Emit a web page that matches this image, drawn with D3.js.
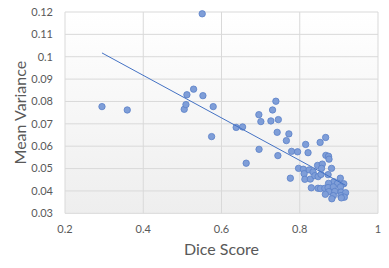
<!DOCTYPE html>
<html lang="en">
<head>
  <script src="https://d3js.org/d3.v7.min.js"></script>
  <style>
    body { margin: 0; background: #fff; }
    text { font-family: Lato, "Open Sans", sans-serif; fill: #595959; }
  </style>
</head>
<body>
<svg width="389" height="268">
  <defs>
    <linearGradient id="plotbg" x1="0" y1="0" x2="0" y2="1">
      <stop offset="0" stop-color="#ffffff"/>
      <stop offset="1" stop-color="#eeeeee"/>
    </linearGradient>
  </defs>
</svg>
<script>
  // dice score vs mean variance
  var diceScore = [0.2945, 0.3591, 0.5047, 0.5091, 0.5116, 0.5287, 0.5525, 0.5507, 0.5788, 0.5747,
    0.6375, 0.6539, 0.6631, 0.6955, 0.7006, 0.6960, 0.7262, 0.7305, 0.7390, 0.7453,
    0.7423, 0.7441, 0.7722, 0.7658, 0.7791, 0.7944, 0.7760, 0.8151, 0.8212, 0.8521,
    0.8662, 0.8667, 0.8736, 0.8748, 0.8455, 0.8577, 0.8812, 0.7969, 0.8092, 0.8240,
    0.8340, 0.8112, 0.8130, 0.8271, 0.8386, 0.8470, 0.8544, 0.8725, 0.9037, 0.8871,
    0.8966, 0.9126, 0.8736, 0.8296, 0.8467, 0.8531, 0.8641, 0.8723, 0.8858, 0.9042,
    0.8743, 0.8897, 0.8654, 0.9055, 0.9172, 0.8858, 0.9050, 0.9139, 0.8820, 0.9063,
    0.8557];
  var meanVariance = [0.0777, 0.0762, 0.0765, 0.0786, 0.0830, 0.0855, 0.0826, 0.1192, 0.0777, 0.0643,
    0.0684, 0.0686, 0.0524, 0.0741, 0.0710, 0.0586, 0.0713, 0.0762, 0.0801, 0.0719,
    0.0662, 0.0558, 0.0655, 0.0625, 0.0577, 0.0575, 0.0457, 0.0608, 0.0571, 0.0617,
    0.0639, 0.0559, 0.0555, 0.0542, 0.0514, 0.0520, 0.0501, 0.0501, 0.0497, 0.0494,
    0.0485, 0.0477, 0.0452, 0.0453, 0.0468, 0.0464, 0.0474, 0.0473, 0.0457, 0.0441,
    0.0434, 0.0432, 0.0434, 0.0414, 0.0412, 0.0411, 0.0412, 0.0415, 0.0418, 0.0418,
    0.0397, 0.0398, 0.0385, 0.0395, 0.0392, 0.0379, 0.0379, 0.0372, 0.0365, 0.0369,
    0.0501];
  // linear trendline end points
  var trendX = [0.2945, 0.9172];
  var trendY = [0.1017, 0.0425];

  var xTicks = [0.2, 0.4, 0.6, 0.8, 1];
  var yTicks = [0.03, 0.04, 0.05, 0.06, 0.07, 0.08, 0.09, 0.1, 0.11, 0.12];

  var svg = d3.select("svg"),
    plotLeft = 65, plotRight = 378, plotTop = 12, plotBottom = 213.3;

  var x = d3.scaleLinear().domain([0.2, 1]).range([plotLeft, plotRight]);
  var y = d3.scaleLinear().domain([0.03, 0.12]).range([plotBottom, plotTop]);

  svg.append("rect")
    .attr("x", plotLeft).attr("y", plotTop)
    .attr("width", plotRight - plotLeft).attr("height", plotBottom - plotTop)
    .attr("fill", "url(#plotbg)");

  // gridlines
  svg.append("g").selectAll("line").data(yTicks).enter().append("line")
    .attr("x1", plotLeft).attr("x2", plotRight)
    .attr("y1", function(d) { return y(d); }).attr("y2", function(d) { return y(d); })
    .attr("stroke", "#d9d9d9").attr("stroke-width", 1);
  svg.append("g").selectAll("line").data(xTicks).enter().append("line")
    .attr("y1", plotTop).attr("y2", plotBottom)
    .attr("x1", function(d) { return x(d); }).attr("x2", function(d) { return x(d); })
    .attr("stroke", "#d9d9d9").attr("stroke-width", 1);

  // tick labels
  var fmt = function(d) { return String(+d.toFixed(2)); };
  svg.append("g").selectAll("text").data(yTicks).enter().append("text")
    .attr("x", 53).attr("y", function(d) { return y(d); })
    .attr("dy", "0.35em").attr("text-anchor", "end")
    .attr("font-size", 11).text(fmt);
  svg.append("g").selectAll("text").data(xTicks).enter().append("text")
    .attr("x", function(d) { return x(d); }).attr("y", 233)
    .attr("text-anchor", "middle")
    .attr("font-size", 11).text(fmt);

  // axis titles
  svg.append("text")
    .attr("x", (plotLeft + plotRight) / 2).attr("y", 255)
    .attr("text-anchor", "middle").attr("font-size", 16)
    .text("Dice Score");
  svg.append("text")
    .attr("transform", "translate(26," + ((plotTop + plotBottom) / 2) + ") rotate(-90)")
    .attr("text-anchor", "middle").attr("font-size", 16)
    .text("Mean Variance");

  // points
  svg.append("g").selectAll("circle").data(d3.range(diceScore.length)).enter().append("circle")
    .attr("cx", function(i) { return x(diceScore[i]); })
    .attr("cy", function(i) { return y(meanVariance[i]); })
    .attr("r", 3.2)
    .attr("fill", "#7f9ed8")
    .attr("stroke", "#5a80c8")
    .attr("stroke-width", 0.8);

  // trendline
  svg.append("path")
    .datum(d3.range(trendX.length))
    .attr("d", d3.line()
      .x(function(i) { return x(trendX[i]); })
      .y(function(i) { return y(trendY[i]); }))
    .attr("fill", "none")
    .attr("stroke", "#4472c4")
    .attr("stroke-width", 1);
</script>
</body>
</html>
